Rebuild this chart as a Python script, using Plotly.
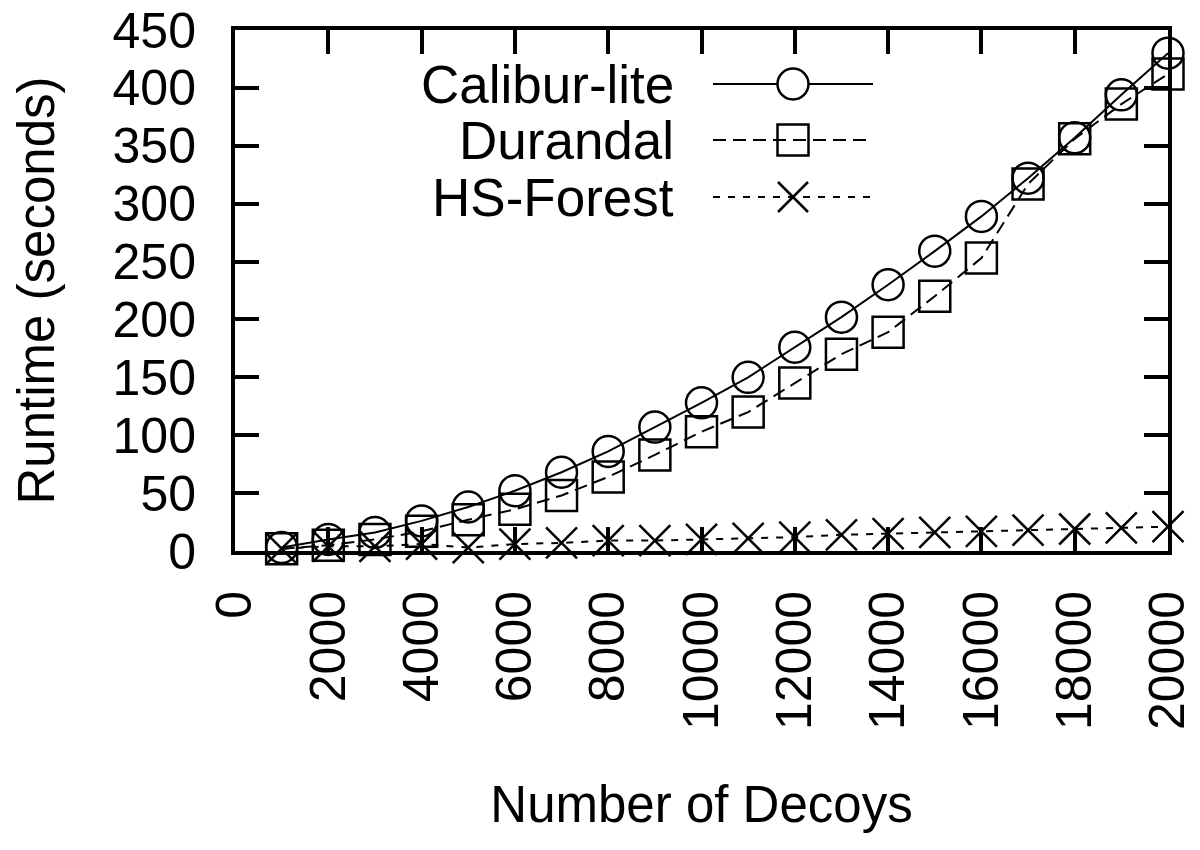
import plotly.graph_objects as go

decoys = [1000, 2000, 3000, 4000, 5000, 6000, 7000, 8000, 9000, 10000,
          11000, 12000, 13000, 14000, 15000, 16000, 17000, 18000, 19000, 20000]
calibur_lite = [3, 10, 16, 26, 38, 52, 68, 86, 107, 128,
                150, 176, 202, 230, 259, 289, 322, 357, 394, 430]
durandal = [2, 5, 10, 17, 27, 36, 48, 64, 83, 103,
            120, 145, 170, 189, 220, 253, 317, 356, 386, 412]
hs_forest = [2, 4, 4, 6, 3, 6, 7, 9, 9, 10,
             11, 12, 14, 15, 16, 17, 18, 19, 20, 21]

series_names = ["Calibur-lite", "Durandal", "HS-Forest"]

FONT = "Liberation Sans, Arial, Helvetica, sans-serif"
W, H = 1200, 850
OFF = 8  # page body margin
L, R, T, B = 235 - OFF, 32 + OFF, 30 - OFF, 299 + OFF
PW, PH = W - L - R, H - T - B


def px(x):
    return (x - OFF - L) / PW


def py(y):
    return (H - B - (y - OFF)) / PH


styles = [
    dict(symbol="circle-open", dash="solid"),
    dict(symbol="square-open", dash="13px,7px"),
    dict(symbol="x-thin-open", dash="7px,8px"),
]

fig = go.Figure()
for name, vals, st in zip(series_names, [calibur_lite, durandal, hs_forest], styles):
    fig.add_trace(go.Scatter(
        x=decoys, y=vals, name=name, mode="lines+markers",
        line=dict(color="black", width=2, dash=st["dash"]),
        marker=dict(symbol=st["symbol"], size=31, color="black",
                    line=dict(color="black", width=2.5)),
        cliponaxis=False,
        showlegend=False,
    ))

# hand-made legend: text on the left, sample on the right (gnuplot style)
shapes = []
annotations = []
row_y = [84, 140, 197]
for name, yy, st in zip(series_names, row_y, styles):
    annotations.append(dict(
        x=px(676), y=py(yy), xref="paper", yref="paper", text=name,
        showarrow=False, xanchor="right", yanchor="middle",
        font=dict(family=FONT, size=53, color="black"),
    ))
    shapes.append(dict(
        type="line", xref="paper", yref="paper",
        x0=px(713), x1=px(873), y0=py(yy), y1=py(yy),
        line=dict(color="black", width=2, dash=st["dash"]),
    ))
    common = dict(xref="paper", yref="paper", xsizemode="pixel", ysizemode="pixel",
                  xanchor=px(793), yanchor=py(yy))
    if st["symbol"].startswith("circle"):
        shapes.append(dict(type="circle", x0=-15.5, x1=15.5, y0=-15.5, y1=15.5,
                           fillcolor="white", line=dict(color="black", width=2.5), **common))
    elif st["symbol"].startswith("square"):
        shapes.append(dict(type="rect", x0=-15.5, x1=15.5, y0=-15.5, y1=15.5,
                           line=dict(color="black", width=2.5), **common))
    else:
        shapes.append(dict(type="line", x0=-15, x1=15, y0=-15, y1=15,
                           line=dict(color="black", width=2.5), **common))
        shapes.append(dict(type="line", x0=-15, x1=15, y0=15, y1=-15,
                           line=dict(color="black", width=2.5), **common))

axis_common = dict(
    showgrid=False, zeroline=False, showline=True, linecolor="black", linewidth=4,
    mirror="ticks", ticks="inside", ticklen=24, tickwidth=3.5, tickcolor="black",
    automargin=False, tickformat="d", ticklabeloverflow="allow",
    tickfont=dict(family=FONT, size=50, color="black"),
)

fig.update_layout(
    width=W, height=H,
    margin=dict(l=L, r=R, t=T, b=B, pad=0),
    paper_bgcolor="white", plot_bgcolor="white",
    showlegend=False,
    xaxis=dict(range=[0, 20000], dtick=2000, tick0=0, tickangle=-90,
               ticklabelstandoff=16,
               title=dict(text="Number of Decoys", standoff=58,
                          font=dict(family=FONT, size=51, color="black")),
               **axis_common),
    yaxis=dict(range=[0, 450], dtick=50, tick0=0,
               ticklabelstandoff=25,
               title=dict(text="Runtime (seconds)", standoff=47,
                          font=dict(family=FONT, size=51, color="black")),
               **axis_common),
    shapes=shapes,
    annotations=annotations,
)

fig.write_html("out.html")
